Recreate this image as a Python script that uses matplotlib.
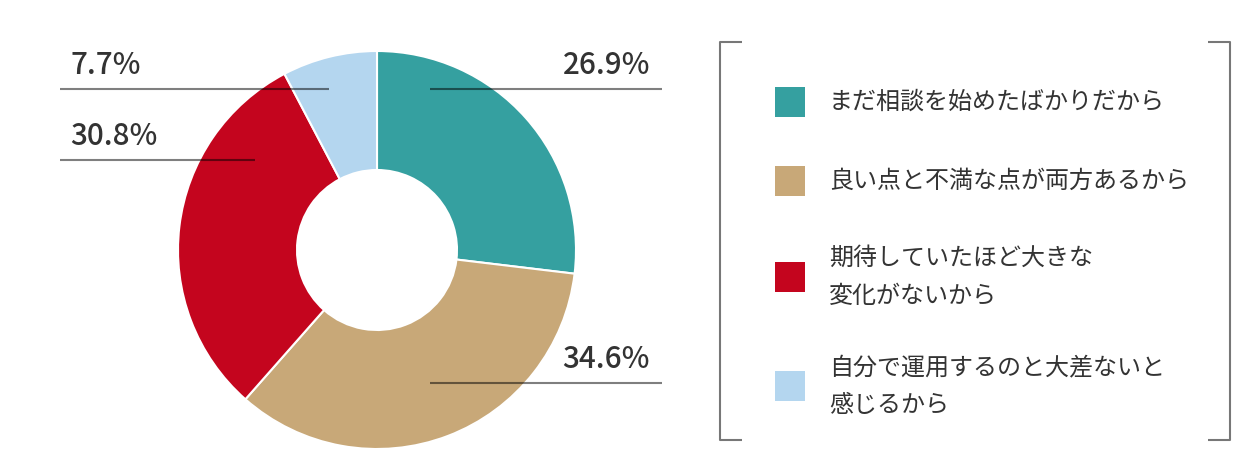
import matplotlib.pyplot as plt
from matplotlib.patches import Rectangle

plt.rcParams['font.family'] = ['Noto Sans CJK JP', 'DejaVu Sans']

# データ
categories = [
    'まだ相談を始めたばかりだから',
    '良い点と不満な点が両方あるから',
    '期待していたほど大きな\n変化がないから',
    '自分で運用するのと大差ないと\n感じるから',
]
values = [26.9, 34.6, 30.8, 7.7]
colors = ['#35A0A0', '#C8A878', '#C4051E', '#B4D6EF']

W, H = 1260, 473
TEXT = '#333333'

fig = plt.figure(figsize=(W / 100, H / 100), dpi=100)
ax = fig.add_axes([0, 0, 1, 1])

# ドーナツ (座標はピクセル、yは下から)
cx, cy, r_out, r_in = 377, H - 250, 199, 80
ax.pie(values, colors=colors, startangle=90, counterclock=False,
       center=(cx, cy), radius=r_out,
       wedgeprops=dict(width=r_out - r_in, edgecolor='white', linewidth=1.5))

# ラベルと引き出し線: (線のy, 線のx0, x1, 文字のx, 揃え)
label_layout = [
    (89, 430, 662, 650, 'right'),
    (383, 430, 662, 650, 'right'),
    (160, 60, 255, 70, 'left'),
    (89, 60, 329, 70, 'left'),
]
for v, (ly, x0, x1, tx, ha) in zip(values, label_layout):
    ax.plot([x0, x1], [H - ly, H - ly], color='black', alpha=0.5, lw=1.5,
            solid_capstyle='butt', zorder=5)
    ax.text(tx, H - ly + 8, f'{v:.1f}%', ha=ha, va='bottom',
            fontsize=21.3, fontweight='medium', color=TEXT, zorder=6)

# 凡例の括弧
bx0, bx1, by0, by1, tick = 720, 1230, 42, 440, 22
br = dict(color='#777777', lw=1.5, solid_capstyle='butt')
ax.plot([bx0 + tick, bx0, bx0, bx0 + tick], [H - by0, H - by0, H - by1, H - by1], **br)
ax.plot([bx1 - tick, bx1, bx1, bx1 - tick], [H - by0, H - by0, H - by1, H - by1], **br)

# 凡例
row_y = [102, 181, 277, 386]
for lab, col, ry in zip(categories, colors, row_y):
    ax.add_patch(Rectangle((775, H - ry - 15), 30, 30, facecolor=col,
                           edgecolor='none'))
    ax.text(829, H - ry, lab, ha='left', va='center', fontsize=17.3,
            color=TEXT, linespacing=1.6)

ax.set_xlim(0, W)
ax.set_ylim(0, H)
ax.set_aspect('auto')
ax.axis('off')

fig.savefig('out.png', dpi=100)
